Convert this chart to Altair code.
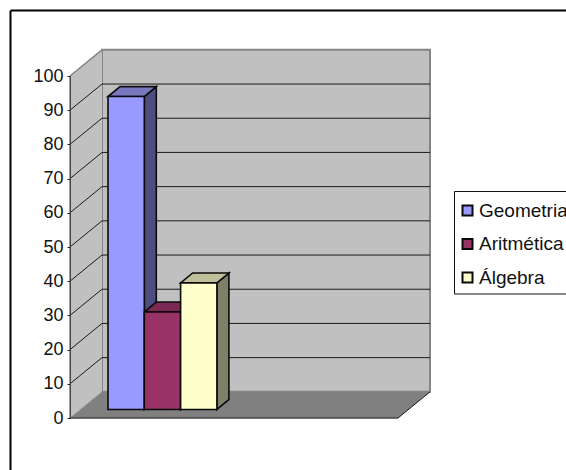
import altair as alt
import pandas as pd

# Series, read in axis units
categories = ["Geometria", "Aritmética", "Álgebra"]
values = [91.5, 28.5, 37.0]
front_colors = ["#9999FF", "#993366", "#FFFFCC"]
side_colors = ["#4D4D80", "#4D1A33", "#808066"]
top_colors = ["#7878BF", "#7A2952", "#BFBF99"]
y_ticks = list(range(0, 101, 10))

# Oblique projection: x runs 0..328 along the floor's front edge, y is the value axis
X_MAX = 328
WALL_DX, WALL_DY = 32, 7.65
BAR_DX, BAR_DY = 12, 2.9
BAR_INSET_X, BAR_INSET_Y = 38, 2.5
BAR_W = 36.3

x_scale = alt.Scale(domain=[0, X_MAX], nice=False, zero=False)
y_scale = alt.Scale(domain=[0, 100], nice=False, zero=False)
FONT = "Liberation Sans"

y_axis = alt.Axis(
    values=y_ticks, title=None, grid=False, tickSize=3, tickColor="#222222",
    tickWidth=1, domainColor="#444444", domainWidth=1, labelFont=FONT,
    labelFontSize=18, labelColor="#111111", labelPadding=4, zindex=1,
)


def X(field="x"):
    return alt.X(f"{field}:Q", scale=x_scale, axis=None)


def Y(field="y"):
    return alt.Y(f"{field}:Q", scale=y_scale, axis=y_axis)


# Walls and floor
back_wall = pd.DataFrame([{"x": WALL_DX, "x2": X_MAX + WALL_DX, "y": WALL_DY, "y2": 100 + WALL_DY}])
side_wall = pd.DataFrame([
    {"x": 0, "y": 0, "y2": 100},
    {"x": WALL_DX, "y": WALL_DY, "y2": 100 + WALL_DY},
])
floor = pd.DataFrame([
    {"y": 0, "x": 0, "x2": X_MAX},
    {"y": WALL_DY, "x": WALL_DX, "x2": X_MAX + WALL_DX},
])

wall_style = dict(fill="#C0C0C0", stroke="#858585", strokeWidth=2)
back_layer = alt.Chart(back_wall).mark_rect(**wall_style).encode(
    x=X(), x2="x2:Q", y=Y(), y2="y2:Q")
side_layer = alt.Chart(side_wall).mark_area(orient="vertical", fill="#C0C0C0").encode(
    x=X(), y=Y(), y2="y2:Q")
side_edge = alt.Chart(pd.DataFrame([{"x": 0, "x2": WALL_DX, "y": 100, "y2": 100 + WALL_DY}])).mark_rule(
    color="#858585", strokeWidth=1.5).encode(x=X(), x2="x2:Q", y=Y(), y2="y2:Q")
floor_layer = alt.Chart(floor).mark_area(orient="horizontal", fill="#808080").encode(
    y=Y(), x=X(), x2="x2:Q")
floor_front = alt.Chart(pd.DataFrame([{"x": 0, "x2": X_MAX, "y": 0}])).mark_rule(
    color="#444444", strokeWidth=1.5).encode(x=X(), x2="x2:Q", y=Y())
floor_right = alt.Chart(pd.DataFrame([{"x": X_MAX, "x2": X_MAX + WALL_DX, "y": 0, "y2": WALL_DY}])).mark_rule(
    color="#111111", strokeWidth=1).encode(x=X(), x2="x2:Q", y=Y(), y2="y2:Q")
floor_left = alt.Chart(pd.DataFrame([{"x": 0, "x2": WALL_DX, "y": 0, "y2": WALL_DY}])).mark_rule(
    color="#9A9A9A", strokeWidth=1).encode(x=X(), x2="x2:Q", y=Y(), y2="y2:Q")

# Gridlines: straight across the back wall, slanted across the side wall
inner_ticks = [t for t in y_ticks if 0 < t < 100]
grid_back = alt.Chart(pd.DataFrame({
    "x": WALL_DX, "x2": X_MAX + WALL_DX, "y": [t + WALL_DY for t in inner_ticks],
})).mark_rule(color="#1A1A1A", strokeWidth=1).encode(x=X(), x2="x2:Q", y=Y())
grid_side = alt.Chart(pd.DataFrame({
    "x": 0, "x2": WALL_DX, "y": inner_ticks, "y2": [t + WALL_DY for t in inner_ticks],
})).mark_rule(color="#1A1A1A", strokeWidth=1).encode(x=X(), x2="x2:Q", y=Y(), y2="y2:Q")
axis_layer = alt.Chart(pd.DataFrame({"x": [0], "y": [0], "y2": [100]})).mark_rule(
    color="#444444", strokeWidth=1).encode(x=X(), y=Y(), y2="y2:Q")

# Bars: sides and tops first, fronts last, so each front covers its neighbour's sliver
fronts, sides, tops = [], [], []
for i, (name, v, fc, sc, tc) in enumerate(zip(categories, values, front_colors, side_colors, top_colors)):
    x0 = BAR_INSET_X + i * BAR_W
    x1 = x0 + BAR_W
    y0 = BAR_INSET_Y
    y1 = BAR_INSET_Y + v
    fronts.append({"cat": name, "x": x0, "x2": x1, "y": y0, "y2": y1})
    sides.append({"cat": name, "fill": sc, "x": x1, "y": y0, "y2": y1})
    sides.append({"cat": name, "fill": sc, "x": x1 + BAR_DX, "y": y0 + BAR_DY, "y2": y1 + BAR_DY})
    tops.append({"cat": name, "fill": tc, "y": y1, "x": x0, "x2": x1})
    tops.append({"cat": name, "fill": tc, "y": y1 + BAR_DY, "x": x0 + BAR_DX, "x2": x1 + BAR_DX})

edge = dict(stroke="#0A0A0A", strokeWidth=1.6)
side_faces = alt.Chart(pd.DataFrame(sides)).mark_area(orient="vertical", **edge).encode(
    x=X(), y=Y(), y2="y2:Q", fill=alt.Fill("fill:N", scale=None), detail="cat:N")
top_faces = alt.Chart(pd.DataFrame(tops)).mark_area(orient="horizontal", **edge).encode(
    y=Y(), x=X(), x2="x2:Q", fill=alt.Fill("fill:N", scale=None), detail="cat:N")
front_faces = alt.Chart(pd.DataFrame(fronts)).mark_rect(**edge).encode(
    x=X(), x2="x2:Q", y=Y(), y2="y2:Q",
    fill=alt.Fill(
        "cat:N",
        scale=alt.Scale(domain=categories, range=front_colors),
        legend=alt.Legend(
            title=None, orient="none", legendX=388, legendY=125,
            padding=0,
            symbolType="square", symbolSize=100, symbolStrokeWidth=2,
            labelFont=FONT, labelFontSize=19, labelColor="#111111",
            labelOffset=2, rowPadding=13.5, labelLimit=200,
        ),
    ),
)

# Outer frame, its right and bottom edges lie beyond the page
frame_top = alt.Chart(pd.DataFrame({"a": [0]})).mark_rule(color="black", strokeWidth=2).encode(
    x=alt.value(-59.5), x2=alt.value(520), y=alt.value(-65.5))
frame_left = alt.Chart(pd.DataFrame({"a": [0]})).mark_rule(color="black", strokeWidth=2).encode(
    x=alt.value(-59.5), y=alt.value(-65.5), y2=alt.value(420))

# Box behind the legend entries, running off the right of the page
legend_box = alt.Chart(pd.DataFrame({"a": [0]})).mark_rect(
    fill="white", stroke="#111111", strokeWidth=1).encode(
    x=alt.value(384.5), x2=alt.value(520), y=alt.value(115.5), y2=alt.value(218))

chart = alt.layer(
    frame_top, frame_left, legend_box,
    back_layer, side_layer, floor_layer, grid_back, grid_side,
    side_edge, floor_left, floor_right, floor_front,
    axis_layer, side_faces, top_faces, front_faces,
).properties(
    width=X_MAX, height=342,
    padding={"left": 70, "top": 76, "right": 168, "bottom": 52},
    autosize=alt.AutoSizeParams(type="none"),
    background="white",
).configure_view(stroke=None)

chart.save("out.html", embed_options={"renderer": "svg", "actions": False})
